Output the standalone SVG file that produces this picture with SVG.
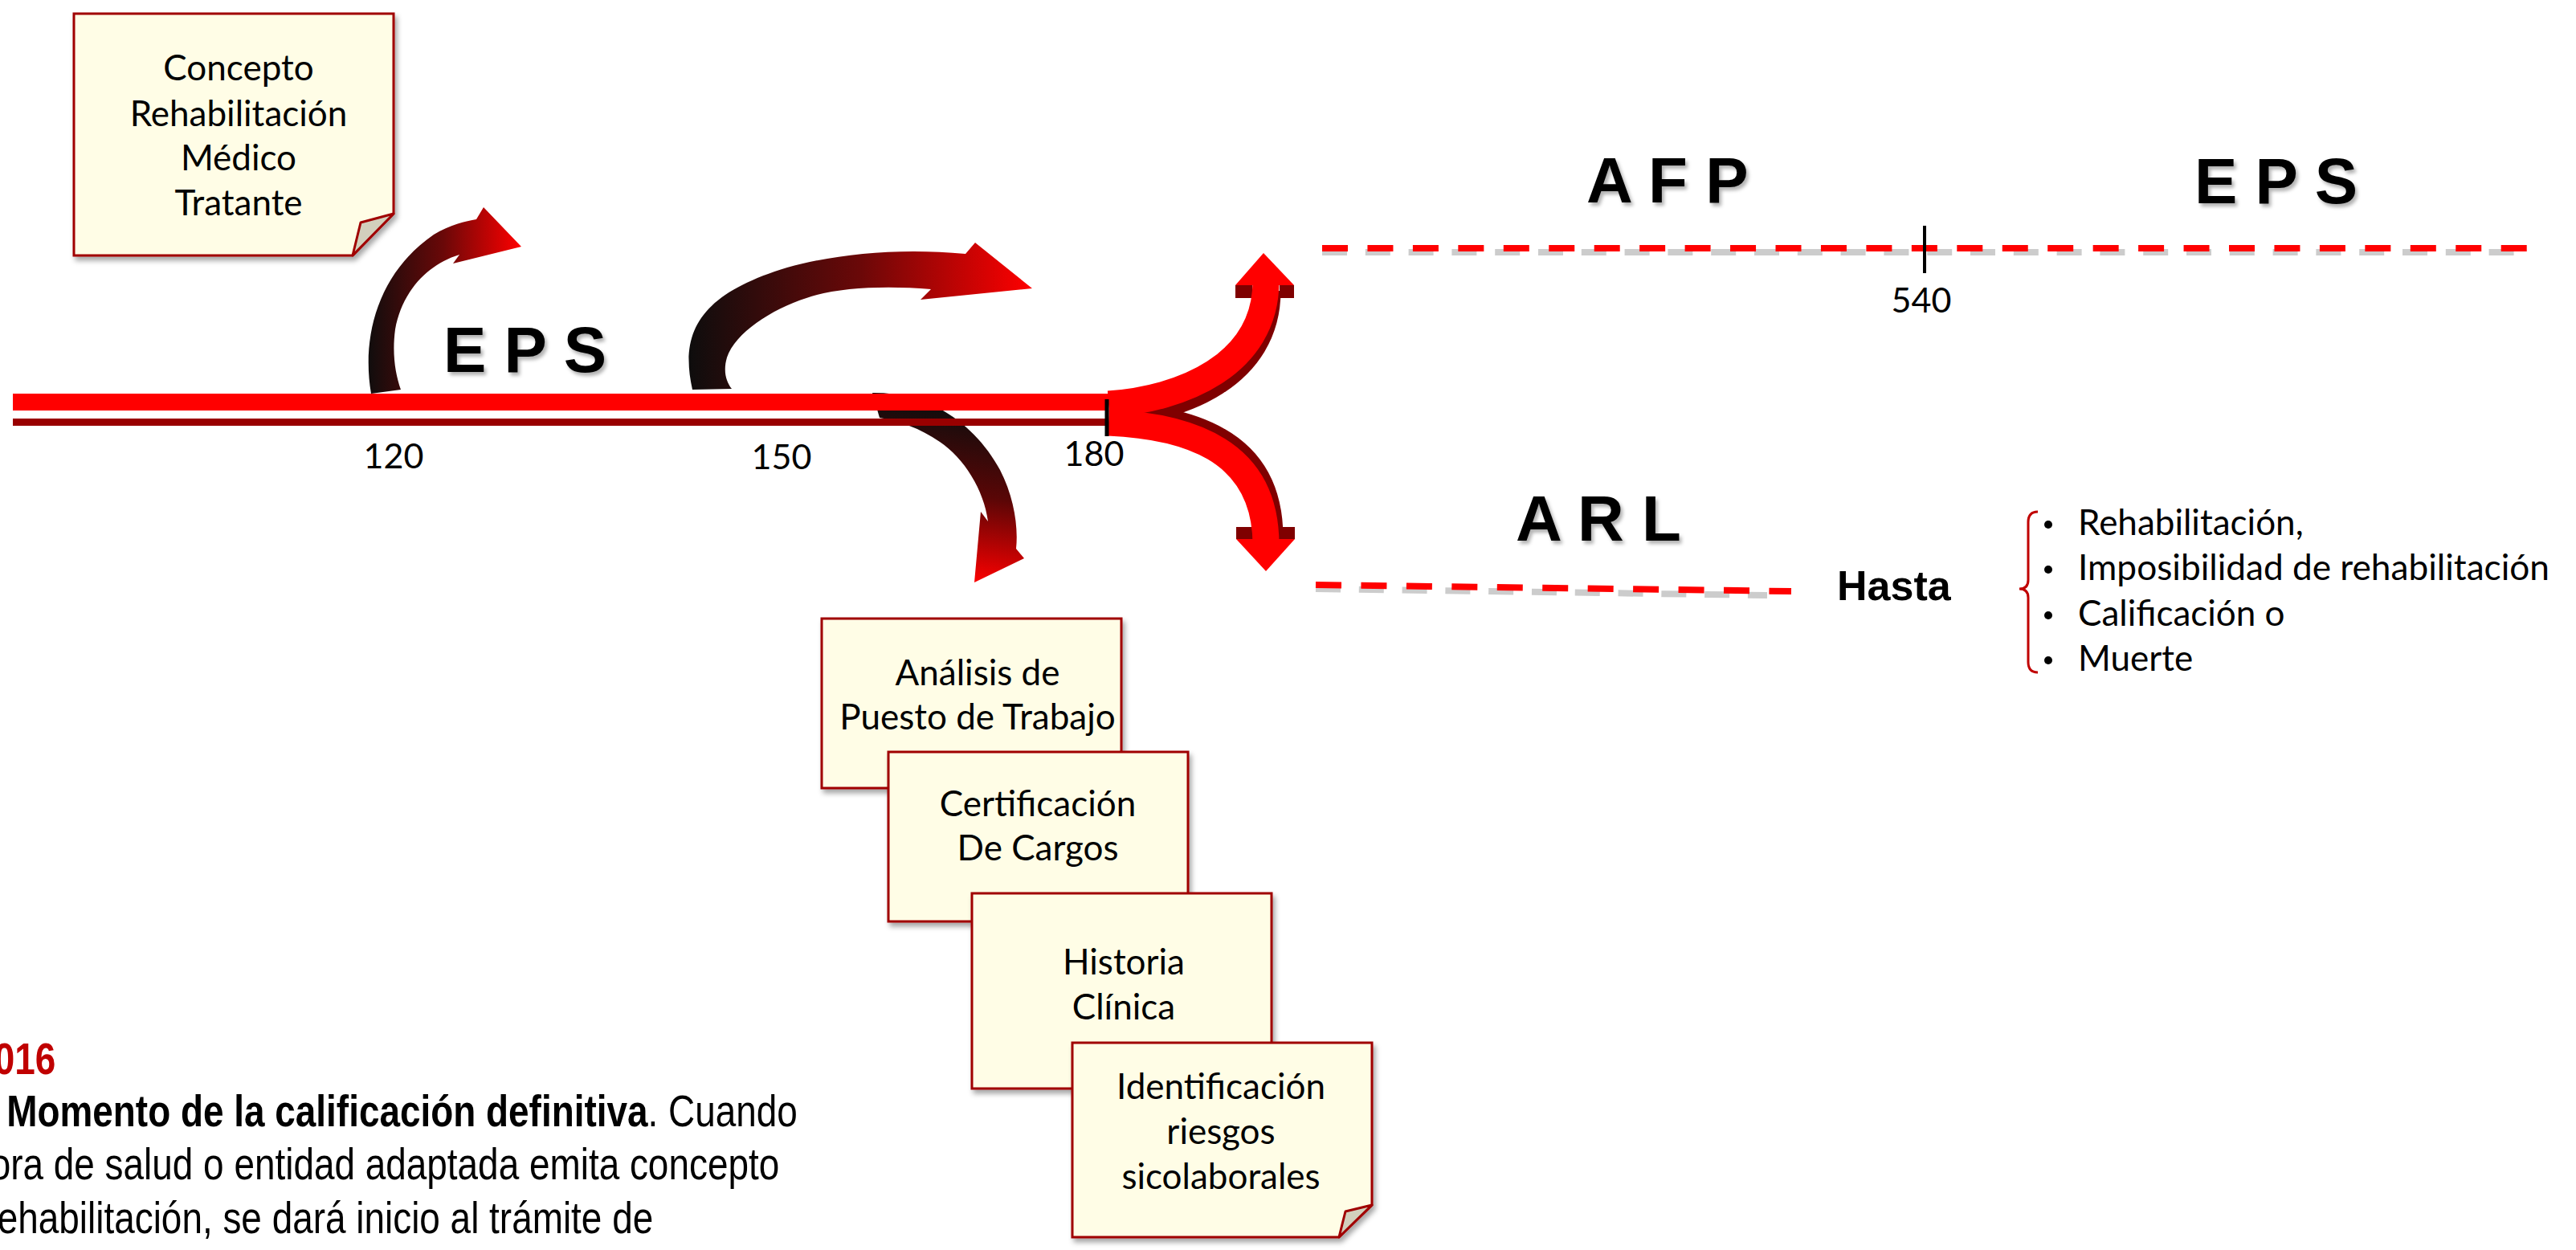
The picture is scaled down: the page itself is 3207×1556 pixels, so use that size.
<svg xmlns="http://www.w3.org/2000/svg" width="3207" height="1556" viewBox="0 0 3207 1556">
<defs>
<style>
.note{fill:#FFFDE6;stroke:#A00000;stroke-width:3}
.fold{fill:#D2CFBC;stroke:#A00000;stroke-width:3;stroke-linejoin:round}
.nt{font-family:Lato,"Open Sans",sans-serif;font-size:44px;fill:#000;text-anchor:middle}
.num{font-family:Lato,"Open Sans",sans-serif;font-size:43px;fill:#000;text-anchor:middle}
.big{font-family:"Liberation Sans",Arial,sans-serif;font-weight:bold;font-size:80px;fill:#000}
.bl{font-family:Lato,"Open Sans",sans-serif;font-size:44px;fill:#000}
.para{font-family:"Liberation Sans",Arial,sans-serif;font-size:56px;fill:#000}
.dash{fill:none;stroke:#FF0000;stroke-width:8;stroke-dasharray:32 24.45}
.dashsh{fill:none;stroke:#CCCCCC;stroke-width:8;stroke-dasharray:31 22.8}
</style>
<linearGradient id="g1" gradientUnits="userSpaceOnUse" x1="455" y1="0" x2="649" y2="0">
<stop offset="0" stop-color="#0d0d0d"/><stop offset="0.5" stop-color="#6a0808"/><stop offset="1" stop-color="#ff0000"/>
</linearGradient>
<linearGradient id="g2" gradientUnits="userSpaceOnUse" x1="856" y1="0" x2="1285" y2="0">
<stop offset="0" stop-color="#0d0d0d"/><stop offset="0.5" stop-color="#6a0808"/><stop offset="1" stop-color="#ff0000"/>
</linearGradient>
<linearGradient id="g3" gradientUnits="userSpaceOnUse" x1="1230" y1="510" x2="1200" y2="725">
<stop offset="0" stop-color="#0d0d0d"/><stop offset="0.5" stop-color="#5a0606"/><stop offset="1" stop-color="#ff0000"/>
</linearGradient>
<filter id="sh" x="-10%" y="-10%" width="130%" height="130%">
<feDropShadow dx="3" dy="5" stdDeviation="3" flood-color="#000" flood-opacity="0.35"/>
</filter>
<filter id="tsh" x="-10%" y="-10%" width="130%" height="130%">
<feDropShadow dx="3" dy="4" stdDeviation="2" flood-color="#000" flood-opacity="0.3"/>
</filter>
</defs>
<rect width="3207" height="1556" fill="#FFFFFF"/>

<g id="connectors">
<path d="M462,490 C450,420 470,340 540,292 C560,280 580,275 593,273 L602,258 L649,307 L564,328 L572,317 C530,330 500,365 492,410 C488,440 492,465 499,485 Z" fill="url(#g1)"/>
<path d="M862,485 C845,410 875,365 980,333 C1040,316 1120,308 1202,316 L1214,302 L1285,359 L1146,373 L1159,360 C1100,355 1040,358 1004,371 C960,385 915,415 905,445 C900,462 904,475 911,484 Z" fill="url(#g2)"/>
<path d="M1086,489 C1160,488 1215,530 1245,585 C1262,618 1268,655 1265,683 L1275,695 L1213,725 L1221,637 L1230,649 C1225,610 1200,570 1170,550 C1145,533 1120,524 1095,520 Z" fill="url(#g3)"/>
<rect x="16" y="490" width="1364" height="21" fill="#FF0000"/>
<rect x="16" y="521" width="1364" height="9" fill="#990000"/>
<path d="M1380,503 C1470,497 1576,455 1576,350" fill="none" stroke="#7F0000" stroke-width="33" transform="translate(2,12)"/>
<path d="M1380,526 C1470,530 1576,555 1576,678" fill="none" stroke="#7F0000" stroke-width="33" transform="translate(5,-9)"/>
<rect x="1538" y="355" width="21" height="16" fill="#7F0000"/>
<rect x="1593" y="355" width="18" height="16" fill="#7F0000"/>
<rect x="1539" y="656" width="22" height="15" fill="#7F0000"/>
<rect x="1591" y="656" width="21" height="15" fill="#7F0000"/>
<path d="M1380,503 C1470,497 1576,455 1576,350" fill="none" stroke="#FF0000" stroke-width="33"/>
<path d="M1380,526 C1470,530 1576,555 1576,678" fill="none" stroke="#FF0000" stroke-width="33"/>
<polygon points="1538,355 1573,315 1611,355" fill="#FF0000"/>
<polygon points="1539,671 1576,711 1612,671" fill="#FF0000"/>
<line x1="1378" y1="497" x2="1378" y2="543" stroke="#000" stroke-width="5"/>
<line x1="1646" y1="314" x2="3130" y2="314" class="dashsh"/>
<line x1="1646" y1="309" x2="3150" y2="309" class="dash"/>
<line x1="1638" y1="733" x2="2200" y2="741" class="dashsh"/>
<line x1="1638" y1="728" x2="2230" y2="736" class="dash"/>
<line x1="2396" y1="281" x2="2396" y2="340" stroke="#000" stroke-width="4"/>
</g>

<g id="labels">
<text class="num" x="490" y="583">120</text>
<text class="num" x="973" y="584">150</text>
<text class="num" x="1362" y="580">180</text>
<text class="num" x="2392" y="389">540</text>
<text class="big" x="552" y="463" filter="url(#tsh)">E P S</text>
<text class="big" x="1975" y="252" filter="url(#tsh)">A F P</text>
<text class="big" x="2732" y="253" filter="url(#tsh)">E P S</text>
<text class="big" x="1887" y="673" filter="url(#tsh)">A R L</text>
</g>

<g id="note-concepto">
<path class="note" filter="url(#sh)" d="M92,17 H490 V266 L439,318 H92 Z"/>
<polygon class="fold" points="490,266 449,277 439,318"/>
<text class="nt" x="297" y="100">Concepto</text>
<text class="nt" x="297" y="157">Rehabilitación</text>
<text class="nt" x="297" y="212">Médico</text>
<text class="nt" x="297" y="268">Tratante</text>
</g>

<g id="note-analisis">
<rect class="note" filter="url(#sh)" x="1023" y="770" width="373" height="211"/>
<text class="nt" x="1217" y="853">Análisis de</text>
<text class="nt" x="1217" y="908">Puesto de Trabajo</text>
</g>
<g id="note-certificacion">
<rect class="note" filter="url(#sh)" x="1106" y="936" width="373" height="211"/>
<text class="nt" x="1292" y="1016">Certificación</text>
<text class="nt" x="1292" y="1071">De Cargos</text>
</g>
<g id="note-historia">
<rect class="note" filter="url(#sh)" x="1210" y="1112" width="373" height="243"/>
<text class="nt" x="1399" y="1213">Historia</text>
<text class="nt" x="1399" y="1269">Clínica</text>
</g>
<g id="note-identificacion">
<path class="note" filter="url(#sh)" d="M1335,1298 H1708 V1500 L1667,1540 H1335 Z"/>
<polygon class="fold" points="1708,1500 1675,1508 1667,1540"/>
<text class="nt" x="1520" y="1368">Identificación</text>
<text class="nt" x="1520" y="1424">riesgos</text>
<text class="nt" x="1520" y="1480">sicolaborales</text>
</g>

<g id="hasta">
<text x="2287" y="747" font-family="Liberation Sans, Arial, sans-serif" font-weight="bold" font-size="52" fill="#000">Hasta</text>
<path d="M2537,637 Q2525,637 2525,650 V722 Q2525,733 2514,733 Q2525,733 2525,744 V824 Q2525,837 2537,837" fill="none" stroke="#C00000" stroke-width="3"/>
<circle cx="2550" cy="653" r="5"/>
<circle cx="2550" cy="709" r="5"/>
<circle cx="2550" cy="766" r="5"/>
<circle cx="2550" cy="822" r="5"/>
<text class="bl" x="2587" y="666">Rehabilitación,</text>
<text class="bl" x="2587" y="722" textLength="587" lengthAdjust="spacingAndGlyphs">Imposibilidad de rehabilitación</text>
<text class="bl" x="2587" y="779">Calificación o</text>
<text class="bl" x="2587" y="835">Muerte</text>
</g>

<g id="paragraph" transform="scale(0.82,1)">
<text class="para" x="-9" y="1337" font-weight="bold" style="fill:#C00000">016</text>
<text class="para" x="10" y="1402"><tspan font-weight="bold">Momento de la calificación definitiva</tspan>. Cuando</text>
<text class="para" x="-15" y="1468">ora de salud o entidad adaptada emita concepto</text>
<text class="para" x="-4" y="1535">ehabilitación, se dará inicio al trámite de</text>
</g>
</svg>
